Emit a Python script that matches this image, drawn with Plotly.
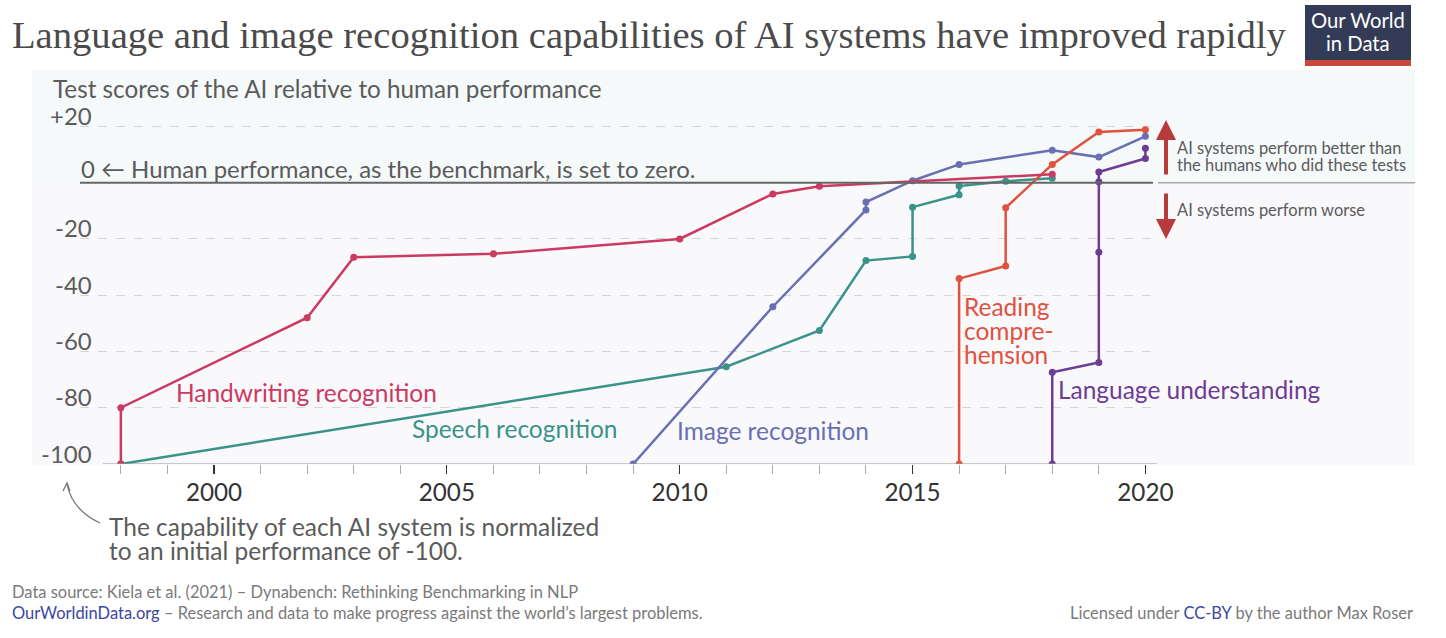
import plotly.graph_objects as go

REF_W, H = 1446, 638
SX = 1462 / 1446          # compensates a horizontal squeeze seen in the rendered page
W = round(REF_W * SX)

# ---------------- data ----------------
hand_x = [1998, 1998, 2002, 2003, 2006, 2010, 2012, 2013, 2018]
hand_y = [-100, -80, -48, -26.5, -25.3, -20, -4, -1.3, 3]

speech_x = [1998, 2011, 2013, 2014, 2015, 2015, 2016, 2016, 2017, 2018]
speech_y = [-100, -65.4, -52.5, -27.7, -26.2, -8.7, -4.3, -1.2, 0.5, 1.6]

image_x = [2009, 2012, 2014, 2014, 2015, 2016, 2018, 2019, 2020]
image_y = [-100, -44.1, -9.7, -6.9, 0.7, 6.5, 11.5, 9.1, 16.5]

reading_x = [2016, 2016, 2017, 2017, 2018, 2019, 2020]
reading_y = [-100, -34.1, -29.6, -8.9, 6.5, 18.0, 18.8]

lang_x = [2018, 2018, 2019, 2019, 2019, 2019, 2020, 2020]
lang_y = [-100, -67.4, -63.9, -24.7, 0.3, 3.8, 8.6, 12.2]

series_names = ["Handwriting recognition", "Speech recognition", "Image recognition",
                "Reading comprehension", "Language understanding"]
series_colors = ["#cb3a61", "#3a9389", "#6a6fb4", "#e0523f", "#6d3c95"]

ytick_vals = [20, -20, -40, -60, -80, -100]
ytick_text = ["+20", "-20", "-40", "-60", "-80", "-100"]
grid_vals = [20, -20, -40, -60, -80]

# label positions (year, value) and text lines
label_pos = [(1999.15, -74.7), (2004.2, -87.4), (2009.9, -88.2), (2016.06, -52.7), (2018.08, -73.6)]
label_lines = [["Handwriting recognition"], ["Speech recognition"], ["Image recognition"],
               ["Reading", "compre-", "hension"], ["Language understanding"]]


def px(x):
    return x / REF_W


def py(y):
    return 1 - y / H


def fs(s):
    return s * SX


FONT = "Lato"
GREY = "#5b5b5b"
fig = go.Figure()

all_x = [hand_x, speech_x, image_x, reading_x, lang_x]
all_y = [hand_y, speech_y, image_y, reading_y, lang_y]
order = [1, 2, 4, 3, 0]
for i in order:
    fig.add_trace(go.Scatter(
        x=all_x[i], y=all_y[i], mode="lines+markers", name=series_names[i],
        line=dict(color=series_colors[i], width=2.5),
        marker=dict(color=series_colors[i], size=7),
        showlegend=False, hoverinfo="skip"))

shapes = []
# background panels
shapes.append(dict(type="rect", xref="paper", yref="paper", x0=px(32), x1=px(1415),
                   y0=py(183), y1=py(70), fillcolor="#f5f9fa", line=dict(width=0), layer="below"))
shapes.append(dict(type="rect", xref="paper", yref="paper", x0=px(32), x1=px(1415),
                   y0=py(465), y1=py(183), fillcolor="#f9f8fb", line=dict(width=0), layer="below"))
# zero line
shapes.append(dict(type="line", xref="paper", yref="y", x0=px(80), x1=px(1153), y0=0, y1=0,
                   line=dict(color="#666666", width=2)))
shapes.append(dict(type="line", xref="paper", yref="y", x0=px(1158), x1=px(1415), y0=0, y1=0,
                   line=dict(color="#a8a8a8", width=1.5)))
# bottom axis line
shapes.append(dict(type="line", xref="paper", yref="y", x0=px(103), x1=px(1157), y0=-100, y1=-100,
                   line=dict(color="#9a9a9a", width=1.2)))
# logo
shapes.append(dict(type="rect", xref="paper", yref="paper", x0=px(1305), x1=px(1411),
                   y0=py(60), y1=py(5), fillcolor="#343b57", line=dict(width=0)))
shapes.append(dict(type="rect", xref="paper", yref="paper", x0=px(1305), x1=px(1411),
                   y0=py(66), y1=py(60), fillcolor="#c9483b", line=dict(width=0)))
# curved arrow bottom-left
curve = "M {:.5f},{:.5f} Q {:.5f},{:.5f} {:.5f},{:.5f}".format(
    px(100), py(523), px(72), py(510), px(67), py(484))
shapes.append(dict(type="path", xref="paper", yref="paper", path=curve,
                   line=dict(color="#777777", width=1.3)))
head = "M {:.5f},{:.5f} L {:.5f},{:.5f} L {:.5f},{:.5f}".format(
    px(63), py(491), px(67), py(483), px(70), py(491))
shapes.append(dict(type="path", xref="paper", yref="paper", path=head,
                   line=dict(color="#777777", width=1.3)))

ann = []
# title
ann.append(dict(text="Language and image recognition capabilities of AI systems have improved rapidly",
                x=px(10), y=py(35), xref="paper", yref="paper", xanchor="left", yanchor="middle",
                showarrow=False, font=dict(family="Liberation Serif", size=fs(38.2), color="#4a4a4a")))
ann.append(dict(text="Our World", x=px(1358), y=py(20), xref="paper", yref="paper",
                xanchor="center", yanchor="middle", showarrow=False,
                font=dict(family=FONT, size=fs(20), color="white")))
ann.append(dict(text="in Data", x=px(1358), y=py(43), xref="paper", yref="paper",
                xanchor="center", yanchor="middle", showarrow=False,
                font=dict(family=FONT, size=fs(20), color="white")))
# subtitle
ann.append(dict(text="Test scores of the AI relative to human performance", x=px(51), y=py(88),
                xref="paper", yref="paper", xanchor="left", yanchor="middle", showarrow=False,
                font=dict(family=FONT, size=fs(24), color=GREY)))
# y tick labels
for v, t in zip(ytick_vals, ytick_text):
    ann.append(dict(text=t, x=px(94), y=v, xref="paper", yref="y", xanchor="right",
                    yanchor="middle", yshift=11, showarrow=False,
                    font=dict(family=FONT, size=fs(23.7), color=GREY)))
ann.append(dict(text="0 ← Human performance, as the benchmark, is set to zero.", x=px(79), y=0,
                xref="paper", yref="y", xanchor="left", yanchor="middle", yshift=14,
                showarrow=False, font=dict(family=FONT, size=fs(23.7), color=GREY)))
# series labels
for (lx, ly), lines, c in zip(label_pos, label_lines, series_colors):
    n = len(lines)
    for k, line in enumerate(lines):
        ann.append(dict(text=line, x=lx, y=ly, xref="x", yref="y", xanchor="left",
                        yanchor="middle", yshift=(n - 1) * 12 - k * 24, showarrow=False,
                        font=dict(family=FONT, size=fs(24.2), color=c)))
# right side arrows
ann.append(dict(text="", x=px(1166), y=py(120), xref="paper", yref="paper", ax=0, ay=56,
                showarrow=True, arrowhead=2, arrowsize=1, arrowwidth=4, arrowcolor="#b83b3b"))
ann.append(dict(text="", x=px(1166), y=py(239), xref="paper", yref="paper", ax=0, ay=-47,
                showarrow=True, arrowhead=2, arrowsize=1, arrowwidth=4, arrowcolor="#b83b3b"))
for t, yy in [("AI systems perform better than", 147.5), ("the humans who did these tests", 165),
              ("AI systems perform worse", 210)]:
    ann.append(dict(text=t, x=px(1175), y=py(yy), xref="paper", yref="paper", xanchor="left",
                    yanchor="middle", showarrow=False,
                    font=dict(family=FONT, size=fs(16.3), color=GREY)))
# bottom note
for t, yy in [("The capability of each AI system is normalized", 526),
              ("to an initial performance of -100.", 550)]:
    ann.append(dict(text=t, x=px(107), y=py(yy), xref="paper", yref="paper", xanchor="left",
                    yanchor="middle", showarrow=False,
                    font=dict(family=FONT, size=fs(24.2), color=GREY)))
# footer
ann.append(dict(text="Data source: Kiela et al. (2021) – Dynabench: Rethinking Benchmarking in NLP",
                x=px(10), y=py(592), xref="paper", yref="paper", xanchor="left", yanchor="middle",
                showarrow=False, font=dict(family=FONT, size=fs(16.3), color="#7a7a7a")))
ann.append(dict(text="<span style='color:#3b47a0'>OurWorldinData.org</span> – Research and data to make progress against the world’s largest problems.",
                x=px(10), y=py(613), xref="paper", yref="paper", xanchor="left", yanchor="middle",
                showarrow=False, font=dict(family=FONT, size=fs(16.3), color="#7a7a7a")))
ann.append(dict(text="Licensed under <span style='color:#3b47a0'>CC-BY</span> by the author Max Roser",
                x=px(1415), y=py(613), xref="paper", yref="paper", xanchor="right", yanchor="middle",
                showarrow=False, font=dict(family=FONT, size=fs(16.3), color="#7a7a7a")))

x0_year = 2000 + (80 - 214) / 46.57
x1_year = 2000 + (1157 - 214) / 46.57
ytop = (182.7 - 120) / 2.8137

fig.update_layout(
    width=W, height=H, margin=dict(l=0, r=0, t=0, b=0),
    paper_bgcolor="white", plot_bgcolor="rgba(0,0,0,0)",
    shapes=shapes, annotations=ann,
    xaxis=dict(domain=[px(80), px(1157)], range=[x0_year, x1_year], showgrid=False,
               zeroline=False, showline=False, tickmode="linear", tick0=2000, dtick=5,
               ticks="outside", ticklen=9, tickwidth=1.2, tickcolor="#333333",
               ticklabelstandoff=-2,
               tickfont=dict(family=FONT, size=fs(24), color="#333333"),
               minor=dict(tickmode="linear", tick0=2000, dtick=1, ticks="outside", ticklen=9,
                          tickwidth=1, tickcolor="#aaaaaa", showgrid=False)),
    yaxis=dict(domain=[py(464), py(120)], range=[-100, ytop], tickmode="array",
               tickvals=grid_vals, showticklabels=False, showgrid=True, gridcolor="#d6d6d6",
               griddash="dash", gridwidth=1, zeroline=False, showline=False),
    hovermode=False,
)

fig.write_html(
    "out.html",
    config={"displayModeBar": False, "staticPlot": True},
    post_script=("document.documentElement.style.margin='0px';"
                 "document.documentElement.style.overflow='hidden';"
                 "document.body.style.margin='0px';document.body.style.overflow='hidden';"),
)
